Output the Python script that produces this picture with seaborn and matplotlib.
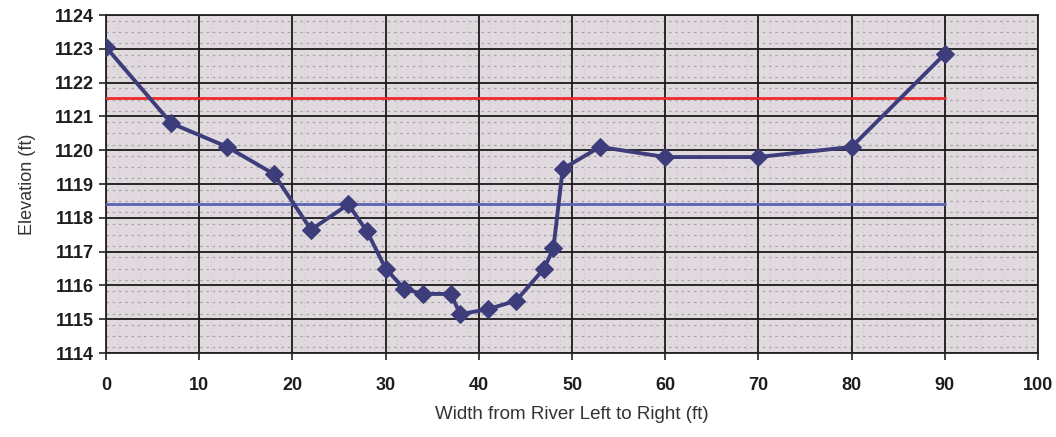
import numpy as np
import pandas as pd
import matplotlib
matplotlib.use("Agg")
import matplotlib.pyplot as plt
import seaborn as sns

# cross-section survey points
width_ft = [0, 7, 13, 18, 22, 26, 28, 30, 32, 34, 37, 38, 41, 44, 47, 48, 49, 53, 60, 70, 80, 90]
elev_ft = [1123.05, 1120.8, 1120.1, 1119.3, 1117.65, 1118.4, 1117.6, 1116.5, 1115.9, 1115.75,
           1115.75, 1115.15, 1115.3, 1115.55, 1116.5, 1117.1, 1119.45, 1120.1, 1119.8, 1119.8,
           1120.1, 1122.85]

# reference water levels
level_x = [0, 90]
red_level = [1121.55, 1121.55]
blue_level = [1118.42, 1118.42]

x_ticks = list(range(0, 101, 10))
y_ticks = list(range(1114, 1125))

sns.set_style("white")
plt.rcParams['font.family'] = ['Liberation Sans', 'DejaVu Sans']

fig = plt.figure(figsize=(10.56, 4.37), dpi=100)
ax = fig.add_axes([0.1004, 0.192, 0.8826, 0.7735])
ax.set_facecolor('#e0d9dd')

# faint texture rows inside each band
for y in np.arange(1114, 1124, 1/3.0):
    ax.axhline(y + 1/6.0, color='#aaa2aa', lw=0.9, ls=(0, (2, 3)), zorder=0)
for x in np.arange(0, 100, 2.5):
    ax.axvline(x + 1.25, color='#bdb5bd', lw=0.6, ls=(0, (1, 4)), zorder=0)

ax.grid(True, color='#1a1a1a', lw=1.3)
ax.set_axisbelow(True)

df = pd.DataFrame({'width': width_ft, 'elev': elev_ft})
sns.lineplot(data=df, x='width', y='elev', ax=ax, color='#3d3d7c', lw=2.8,
             marker='D', markersize=9, markeredgecolor='#3d3d7c', zorder=5, sort=False)
sns.lineplot(x=level_x, y=red_level, ax=ax, color='#ee2a2a', lw=2.0, zorder=4)
sns.lineplot(x=level_x, y=blue_level, ax=ax, color='#5a64b4', lw=2.0, zorder=4)

ax.set_xlim(0, 100)
ax.set_ylim(1114, 1124)
ax.set_xticks(x_ticks)
ax.set_yticks(y_ticks)
ax.tick_params(axis='both', direction='out', length=5, width=1.2, color='#222222',
               labelsize=13, labelcolor='#1e1e1e', bottom=True, left=True)
ax.tick_params(axis='x', pad=12)
for lab in ax.get_xticklabels() + ax.get_yticklabels():
    lab.set_fontweight('bold')
for s in ax.spines.values():
    s.set_color('#222222')
    s.set_linewidth(1.3)

ax.set_xlabel('Width from River Left to Right (ft)', fontsize=13.5, color='#333333', labelpad=9)
ax.set_ylabel('Elevation (ft)', fontsize=13, color='#333333', labelpad=14)

plt.savefig('out.png', dpi=100)
